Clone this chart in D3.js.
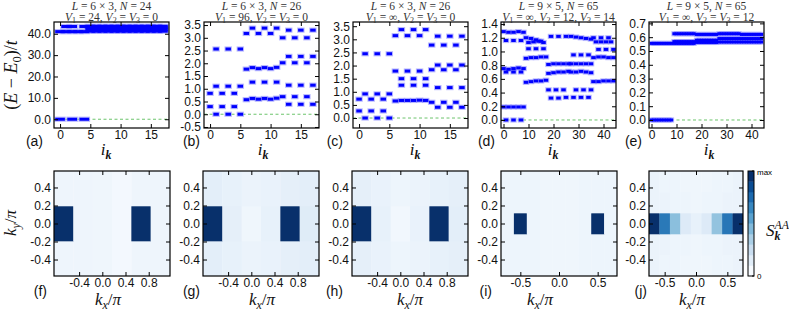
<!DOCTYPE html>
<html lang="en">
<head>
<meta charset="UTF-8">
<title>Spectra and structure factors</title>
<script src="https://cdn.jsdelivr.net/npm/d3@7"></script>
<style>
  body { margin: 0; background: #fff; }
</style>
</head>
<body>
<div id="chart"></div>
<script>
// ---- spectra: every row is [momentum indices i_k, energy (one value, or one per index)]
const specA = [
  [[0, 2, 4], 0.0],
  [[0, 1, 2, 3, 4], 41.0],
  [[1, 2, 4], 43.4],
  [[5, 6, 7, 8, 9, 10, 11, 12, 13, 14, 15, 16, 17], 41.2],
  [[5, 6, 7, 8, 9, 10, 11, 12, 13, 14, 15, 16, 17], 42.0],
  [[5, 6, 7, 8, 9, 10, 11, 12, 13, 14, 15, 16, 17], 42.8],
  [[5, 6, 7, 8, 9, 10, 11, 12, 13, 14, 15, 16, 17], 43.5]
];
const specB = [
  [[1, 3, 5], 0.0], [[0, 2, 4], 0.30], [[0, 2, 4], 0.82], [[1, 3, 5], 1.10], [[1, 3, 5], 2.56],
  [[6, 7, 8, 9, 10, 11], [0.57, 0.62, 0.59, 0.62, 0.59, 0.63]],
  [[6, 7, 8, 9, 10, 11], [1.77, 1.83, 1.79, 1.83, 1.79, 1.84]],
  [[7, 9, 11], 1.26], [[6, 8, 10], 3.17], [[7, 9, 11], 3.38],
  [[12, 14, 16], 0.69], [[13, 15, 17], 0.39], [[13, 15, 17], 1.14],
  [[12, 14, 16], 2.02], [[13, 15, 17], 2.27], [[12, 14, 16], 3.00], [[13, 15, 17], 3.30]
];
const specC = [
  [[1, 3, 5], 0.0], [[0, 2, 4], 0.27], [[0, 2, 4], 0.72], [[1, 3, 5], 0.92], [[1, 3, 5], 2.45],
  [[6, 7, 8, 9, 10, 11], [0.65, 0.67, 0.67, 0.67, 0.68, 0.67]],
  [[6, 8, 10], 1.79], [[7, 9, 11], 1.25], [[7, 9, 11], 1.50], [[6, 8, 10], 3.14], [[7, 9, 11], 3.37],
  [[12, 14, 16], 0.60], [[13, 15, 17], 0.41], [[13, 15, 17], 1.16], [[12, 14, 16], 1.84],
  [[13, 15, 17], 2.02], [[12, 14, 16], 2.78], [[13, 15, 17], 3.12]
];
const specD = [
  [[1, 4, 7], 0.0], [[0, 2, 4, 6, 8], 0.19], [[1, 4, 7], 0.70],
  [[0, 2, 4, 6, 8], [0.75, 0.74, 0.75, 0.76, 0.75]], [[1, 4, 7], 1.16],
  [[0, 2, 4, 6, 8], [1.29, 1.28, 1.28, 1.29, 1.28]],
  [[9, 11, 13, 15, 17], [0.55, 0.56, 0.57, 0.57, 0.58]],
  [[9, 11, 13, 15, 17], [0.90, 0.91, 0.91, 0.92, 0.92]],
  [[10, 13, 16], 1.04],
  [[9, 11, 13, 15], [1.20, 1.19, 1.17, 1.15]], [[10, 12, 14, 16], [1.13, 1.14, 1.15, 1.13]],
  [[19, 22, 25], [0.32, 0.32, 0.33]], [[18, 21, 24], 0.44],
  [[18, 20, 22, 24, 26], [0.68, 0.69, 0.70, 0.70, 0.71]],
  [[18, 20, 22, 24, 26], [0.81, 0.82, 0.82, 0.82, 0.82]], [[19, 22, 25], 1.22],
  [[28, 31, 34], 0.33], [[29, 32, 35], 0.44],
  [[27, 29, 31, 33, 35], [0.70, 0.70, 0.71, 0.70, 0.69]], [[27, 29, 31, 33, 35], 0.82],
  [[28, 31, 34], 0.95], [[27, 29, 31, 33, 35], [1.22, 1.21, 1.20, 1.19, 1.18]],
  [[36, 38, 40, 42, 44], [0.56, 0.56, 0.57, 0.57, 0.57]],
  [[36, 38, 40, 42, 44], [0.91, 0.92, 0.92, 0.91, 0.91]],
  [[38, 41, 44], 1.03], [[37, 39, 41, 43], 1.14], [[36, 39, 42], 1.20]
];
const specE = [
  [[0, 1, 2, 3, 4, 5, 6, 7, 8], 0.0],
  [[0, 1, 2, 3, 4, 5, 6, 7, 8], 0.555],
  [[9, 10, 11, 12, 13, 14, 15, 16, 17], 0.555],
  [[9, 10, 11, 12, 13, 14, 15, 16, 17], 0.568],
  [[9, 10, 11, 12, 13, 14, 15, 16, 17], 0.625],
  [[18, 19, 20, 21, 22, 23, 24, 25, 26], 0.562],
  [[18, 19, 20, 21, 22, 23, 24, 25, 26], 0.578],
  [[18, 19, 20, 21, 22, 23, 24, 25, 26], 0.620],
  [[27, 28, 29, 30, 31, 32, 33, 34, 35], 0.565],
  [[27, 28, 29, 30, 31, 32, 33, 34, 35], 0.590],
  [[27, 28, 29, 30, 31, 32, 33, 34, 35], 0.625],
  [[36, 37, 38, 39, 40, 41, 42, 43, 44], 0.565],
  [[36, 37, 38, 39, 40, 41, 42, 43, 44], 0.590],
  [[36, 37, 38, 39, 40, 41, 42, 43, 44], 0.620]
];

// ---- tick values
const ticksI18 = [0, 5, 10, 15];
const ticksI45 = [0, 10, 20, 30, 40];
const ticksEA = [0, 10, 20, 30, 40];
const ticksEB = [-0.5, 0, 0.5, 1, 1.5, 2, 2.5, 3, 3.5];
const ticksEC = [0, 0.5, 1, 1.5, 2, 2.5, 3, 3.5];
const ticksED = [0, 0.2, 0.4, 0.6, 0.8, 1.0, 1.2, 1.4];
const ticksEE = [0, 0.1, 0.2, 0.3, 0.4, 0.5, 0.6, 0.7];
const ticksKx6 = [-0.4, 0, 0.4, 0.8];
const ticksKx9 = [-0.5, 0, 0.5];
const ticksKy = [-0.4, -0.2, 0, 0.2, 0.4];

// ---- titles
const titles = [
  ["L = 6 × 3, N = 24", "V_1 = 24, V_2 = V_3 = 0"],
  ["L = 6 × 3, N = 26", "V_1 = 96, V_2 = V_3 = 0"],
  ["L = 6 × 3, N = 26", "V_1 = ∞, V_2 = V_3 = 0"],
  ["L = 9 × 5, N = 65", "V_1 = ∞, V_2 = 12, V_3 = 14"],
  ["L = 9 × 5, N = 65", "V_1 = ∞, V_2 = V_3 = 12"]
];

// ---- structure factor S_k^AA (0 = none, 1 = max), rows from ky < 0 to ky > 0
const kx6 = [-0.667, -0.333, 0, 0.333, 0.667, 1.0];
const ky3 = [-0.389, 0, 0.389];
const kx9 = [-0.667, -0.5, -0.333, -0.167, 0, 0.167, 0.333, 0.5, 0.667];
const ky5 = [-0.467, -0.233, 0, 0.233, 0.467];
const sF = [
  [0.045, 0.045, 0.04, 0.02, 0.045, 0.045],
  [1.0, 0.045, 0.04, 0.02, 1.0, 0.045],
  [0.045, 0.045, 0.04, 0.02, 0.045, 0.045]
];
const sG = [
  [0.10, 0.08, 0.06, 0.07, 0.09, 0.10],
  [1.0, 0.09, 0.04, 0.08, 1.0, 0.12],
  [0.10, 0.08, 0.06, 0.07, 0.09, 0.10]
];
const sH = [
  [0.09, 0.07, 0.05, 0.06, 0.08, 0.09],
  [1.0, 0.08, 0.03, 0.07, 1.0, 0.10],
  [0.09, 0.07, 0.05, 0.06, 0.08, 0.09]
];
const sI = [
  [0.05, 0.05, 0.05, 0.04, 0.04, 0.04, 0.05, 0.05, 0.05],
  [0.05, 0.05, 0.05, 0.04, 0.04, 0.04, 0.05, 0.05, 0.05],
  [0.05, 1.0, 0.05, 0.04, 0.04, 0.04, 0.05, 1.0, 0.05],
  [0.05, 0.05, 0.05, 0.04, 0.04, 0.04, 0.05, 0.05, 0.05],
  [0.05, 0.05, 0.05, 0.04, 0.04, 0.04, 0.05, 0.05, 0.05]
];
const sJ = [
  [0.06, 0.05, 0.05, 0.04, 0.04, 0.04, 0.05, 0.05, 0.06],
  [0.06, 0.06, 0.05, 0.05, 0.04, 0.05, 0.05, 0.06, 0.06],
  [1.0, 0.72, 0.42, 0.13, 0.08, 0.13, 0.40, 0.73, 1.0],
  [0.06, 0.06, 0.05, 0.05, 0.04, 0.05, 0.05, 0.06, 0.06],
  [0.06, 0.05, 0.05, 0.04, 0.04, 0.04, 0.05, 0.05, 0.06]
];

const W = 789, H = 313;
const sans = "'Liberation Sans', Arial, sans-serif";
const serif = "'Liberation Serif', 'DejaVu Serif', serif";
const fmt = d => d.toFixed(1);

const svg = d3.select("#chart").append("svg")
  .attr("width", W).attr("height", H)
  .style("background", "#fff");

// small math-like text: letters italic, _x / _{..} subscripts, ^{..} superscripts, * = bold
function math(sel, str, x, y, size, anchor, fill) {
  const t = sel.append("text").attr("x", x).attr("y", y)
    .attr("font-family", serif).attr("font-size", size)
    .attr("text-anchor", anchor || "middle").attr("fill", fill || "#111");
  const items = [];
  let i = 0;
  while (i < str.length) {
    let c = str[i], lvl = 0, txt;
    if (c === "_" || c === "^") {
      lvl = c === "_" ? 1 : -1; i++; c = str[i];
      if (c === "{") { const j = str.indexOf("}", i); txt = str.slice(i + 1, j); i = j + 1; }
      else { txt = c; i++; }
    } else {
      let j = i;
      while (j < str.length && str[j] !== "_" && str[j] !== "^") j++;
      txt = str.slice(i, j); i = j;
    }
    items.push({ txt, lvl });
  }
  let cur = 0;
  items.forEach((it, k) => {
    let txt = it.txt, bold = false;
    if (txt[0] === "*") { bold = true; txt = txt.slice(1); }
    const fs = it.lvl ? size * 0.7 : size;
    const target = it.lvl === 1 ? size * 0.22 : it.lvl === -1 ? -size * 0.42 : 0;
    let dx = 0;
    if (it.lvl === -1 && k > 0 && items[k - 1].lvl === 1) dx = -items[k - 1].w;
    it.w = txt.length * fs * 0.5;
    const runs = txt.match(/[A-Za-zπ]+|[^A-Za-zπ]+/g) || [];
    runs.forEach((r, ri) => {
      const ts = t.append("tspan").text(r).attr("font-size", fs)
        .attr("font-style", /[A-Za-zπ]/.test(r) ? "italic" : "normal");
      if (bold) ts.attr("font-weight", "bold");
      if (ri === 0) {
        ts.attr("dy", target - cur); cur = target;
        if (dx) ts.attr("dx", dx);
      }
    });
  });
  return t;
}

// frame with inward ticks on all four sides
function axes(g, x, y, xt, yt, w, h) {
  const style = a => a.call(s => s.select(".domain").remove())
    .call(s => s.selectAll("text").attr("font-family", sans).attr("font-size", 12).attr("fill", "#111"))
    .call(s => s.selectAll("line").attr("stroke", "#000"));
  g.append("g").attr("transform", `translate(0,${h})`)
    .call(d3.axisBottom(x).tickValues(xt).tickSizeInner(-4).tickSizeOuter(0).tickPadding(2)
      .tickFormat(xt.some(v => !Number.isInteger(v)) ? fmt : d3.format("d")))
    .call(style);
  g.append("g")
    .call(d3.axisTop(x).tickValues(xt).tickSizeInner(-4).tickSizeOuter(0).tickFormat(""))
    .call(style);
  g.append("g")
    .call(d3.axisLeft(y).tickValues(yt).tickSizeInner(-4).tickSizeOuter(0).tickPadding(3).tickFormat(fmt))
    .call(style);
  g.append("g").attr("transform", `translate(${w},0)`)
    .call(d3.axisRight(y).tickValues(yt).tickSizeInner(-4).tickSizeOuter(0).tickFormat(""))
    .call(style);
  g.append("rect").attr("width", w).attr("height", h)
    .attr("fill", "none").attr("stroke", "#000").attr("stroke-width", 1.2);
}

// ---------------- top row: spectra
const topY = 22, topH = 106, topW = 115;
const topPanels = [
  { spec: specA, xd: [-1, 18], yd: [-4.1, 45.5], xt: ticksI18, yt: ticksEA, dw: 1.6, left: 54, lx: 43, ix: 106, tag: "(a)" },
  { spec: specB, xd: [-1, 18], yd: [-0.54, 3.62], xt: ticksI18, yt: ticksEB, dw: 0.9, left: 204, lx: 200, ix: 263, tag: "(b)" },
  { spec: specC, xd: [-1, 18], yd: [-0.38, 3.66], xt: ticksI18, yt: ticksEC, dw: 0.9, left: 353, lx: 343, ix: 415, tag: "(c)" },
  { spec: specD, xd: [-1, 45], yd: [-0.117, 1.43], xt: ticksI45, yt: ticksED, dw: 1.8, left: 501, lx: 495, ix: 553, tag: "(d)" },
  { spec: specE, xd: [-1, 45], yd: [-0.058, 0.71], xt: ticksI45, yt: ticksEE, dw: 1.3, left: 649, lx: 642, ix: 709, tag: "(e)" }
];

topPanels.forEach((p, n) => {
  const g = svg.append("g").attr("transform", `translate(${p.left},${topY})`);
  const x = d3.scaleLinear().domain(p.xd).range([0, topW]);
  const y = d3.scaleLinear().domain(p.yd).range([topH, 0]);

  const clipId = "clipT" + n;
  g.append("clipPath").attr("id", clipId).append("rect").attr("width", topW).attr("height", topH);
  const plot = g.append("g").attr("clip-path", `url(#${clipId})`);

  plot.append("line")
    .attr("x1", 0).attr("x2", topW).attr("y1", y(0)).attr("y2", y(0))
    .attr("stroke", "#6cc46c").attr("stroke-width", 1).attr("stroke-dasharray", "3,2.5");

  const dashes = p.spec.flatMap(([iks, E]) =>
    iks.map((ik, j) => ({ ik, e: Array.isArray(E) ? E[j] : E })));

  plot.append("g").selectAll("rect").data(dashes).join("rect")
    .attr("x", d => x(d.ik - p.dw / 2) - 1).attr("width", d => x(d.ik + p.dw / 2) - x(d.ik - p.dw / 2) + 2)
    .attr("y", d => y(d.e) - 2.6).attr("height", 5.2)
    .attr("fill", "#8a8aff").attr("opacity", 0.6);
  plot.append("g").selectAll("rect").data(dashes).join("rect")
    .attr("x", d => x(d.ik - p.dw / 2)).attr("width", d => x(d.ik + p.dw / 2) - x(d.ik - p.dw / 2))
    .attr("y", d => y(d.e) - 1.5).attr("height", 3)
    .attr("fill", "#0000ff");

  axes(g, x, y, p.xt, p.yt, topW, topH);

  math(svg, titles[n][0], p.left + topW / 2, 10, 11.5, "middle", "#333");
  math(svg, titles[n][1], p.left + topW / 2, 20.5, 11.5, "middle", "#333");

  svg.append("text").attr("x", p.lx).attr("y", 146).attr("text-anchor", "end")
    .attr("font-family", sans).attr("font-size", 14).attr("fill", "#111").text(p.tag);
  math(svg, "i_{*k}", p.ix, 155, 17);
});

const yl = svg.append("g").attr("transform", "translate(17,75) rotate(-90)");
math(yl, "(E − E_0)/t", 0, 0, 18);

// ---------------- bottom row: S_k^AA maps
const botY = 171, botH = 105;
const color = d3.interpolateBlues;
const botPanels = [
  { s: sF, kx: kx6, ky: ky3, dx: 0.333, dy: 0.389, xd: [-0.833, 1.167], xt: ticksKx6, left: 54, w: 116, lx: 47, kxl: 108, tag: "(f)" },
  { s: sG, kx: kx6, ky: ky3, dx: 0.333, dy: 0.389, xd: [-0.833, 1.167], xt: ticksKx6, left: 203, w: 116, lx: 200, kxl: 262, tag: "(g)" },
  { s: sH, kx: kx6, ky: ky3, dx: 0.333, dy: 0.389, xd: [-0.833, 1.167], xt: ticksKx6, left: 352, w: 116, lx: 343, kxl: 410, tag: "(h)" },
  { s: sI, kx: kx9, ky: ky5, dx: 0.1667, dy: 0.233, xd: [-0.75, 0.75], xt: ticksKx9, left: 501, w: 116, lx: 492, kxl: 540, tag: "(i)" },
  { s: sJ, kx: kx9, ky: ky5, dx: 0.1667, dy: 0.233, xd: [-0.75, 0.75], xt: ticksKx9, left: 649, w: 94, lx: 647, kxl: 692, tag: "(j)" }
];

botPanels.forEach((p, n) => {
  const g = svg.append("g").attr("transform", `translate(${p.left},${botY})`);
  const x = d3.scaleLinear().domain(p.xd).range([0, p.w]);
  const y = d3.scaleLinear().domain([-0.583, 0.583]).range([botH, 0]);

  const clipId = "clipB" + n;
  g.append("clipPath").attr("id", clipId).append("rect").attr("width", p.w).attr("height", botH);

  const cells = p.s.flatMap((row, r) => row.map((v, c) => ({ kx: p.kx[c], ky: p.ky[r], v })));
  g.append("g").attr("clip-path", `url(#${clipId})`)
    .selectAll("rect").data(cells).join("rect")
    .attr("x", d => x(d.kx - p.dx / 2)).attr("width", d => x(d.kx + p.dx / 2) - x(d.kx - p.dx / 2) + 0.3)
    .attr("y", d => y(d.ky + p.dy / 2)).attr("height", d => y(d.ky - p.dy / 2) - y(d.ky + p.dy / 2) + 0.3)
    .attr("fill", d => color(d.v));

  axes(g, x, y, p.xt, ticksKy, p.w, botH);

  svg.append("text").attr("x", p.lx).attr("y", 296).attr("text-anchor", "end")
    .attr("font-family", sans).attr("font-size", 14).attr("fill", "#111").text(p.tag);
  math(svg, "k_x/π", p.kxl, 305, 17);
});

const kyl = svg.append("g").attr("transform", "translate(16,223) rotate(-90)");
math(kyl, "k_y/π", 0, 0, 17);

// colour bar
const cb = svg.append("g").attr("transform", `translate(748,${botY})`);
const nBands = 10, cbW = 6;
const cy = d3.scaleLinear().domain([0, nBands]).range([botH, 0]);
cb.selectAll("rect.band").data(d3.range(nBands)).join("rect").attr("class", "band")
  .attr("x", 0).attr("width", cbW)
  .attr("y", d => cy(d + 1)).attr("height", d => cy(d) - cy(d + 1) + 0.3)
  .attr("fill", d => color(d / (nBands - 1)));
cb.append("rect").attr("width", cbW).attr("height", botH)
  .attr("fill", "none").attr("stroke", "#000").attr("stroke-width", 1);
cb.selectAll("line.tk").data([0, nBands]).join("line").attr("class", "tk")
  .attr("x1", cbW - 2).attr("x2", cbW).attr("y1", d => cy(d)).attr("y2", d => cy(d)).attr("stroke", "#000");
cb.append("text").attr("x", cbW + 3).attr("y", 4).attr("font-family", sans).attr("font-size", 8).text("max");
cb.append("text").attr("x", cbW + 3).attr("y", botH + 3).attr("font-family", sans).attr("font-size", 8).text("0");
math(svg, "S_{*k}^{AA}", 766, 236, 17, "start");
</script>
</body>
</html>
